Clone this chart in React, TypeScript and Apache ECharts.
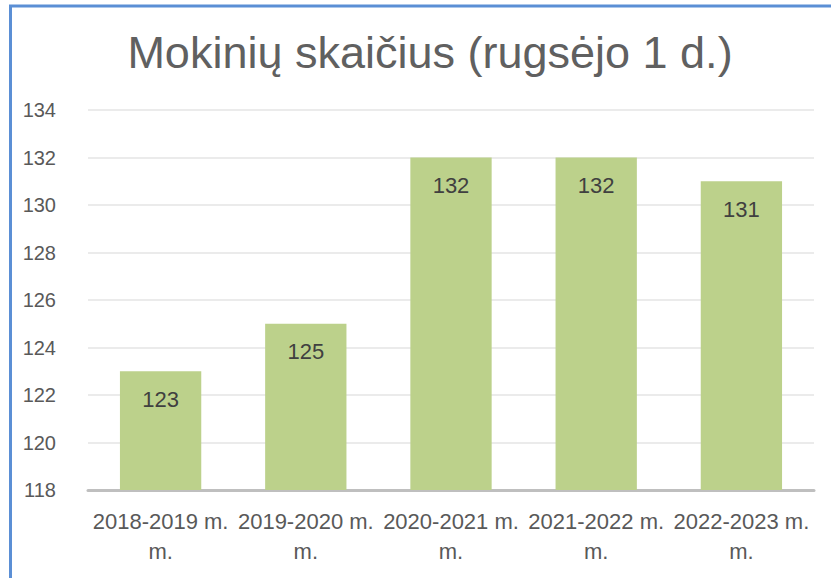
import React, { useEffect, useRef } from "react";
import * as echarts from "echarts";

const titleText = "Mokinių skaičius (rugsėjo 1 d.)";
const categories = [
  "2018-2019 m. m.",
  "2019-2020 m. m.",
  "2020-2021 m. m.",
  "2021-2022 m. m.",
  "2022-2023 m. m.",
];
const values = [123, 125, 132, 132, 131];
const yMin = 118;
const yMax = 134;
const yStep = 2;

const FONT = "'Liberation Sans', Arial, sans-serif";

export default function App() {
  const ref = useRef<HTMLDivElement>(null);
  useEffect(() => {
    if (!ref.current) return;
    const chart = echarts.init(ref.current, undefined, { renderer: "svg" });
    chart.setOption({
      animation: false,
      backgroundColor: "#ffffff",
      title: {
        text: titleText,
        left: 425,
        textAlign: "center",
        top: 25,
        textStyle: {
          fontFamily: FONT,
          fontSize: 45,
          fontWeight: "normal",
          color: "#606060",
        },
      },
      graphic: [
        {
          type: "line",
          shape: { x1: 10.5, y1: 5, x2: 10.5, y2: 578 },
          style: { stroke: "#5B8FD5", lineWidth: 3 },
        },
        {
          type: "line",
          shape: { x1: 9, y1: 6, x2: 831, y2: 6 },
          style: { stroke: "#5B8FD5", lineWidth: 3 },
        },
      ],
      grid: { left: 88, right: 17, top: 110, bottom: 88, containLabel: false },
      xAxis: {
        type: "category",
        data: categories,
        axisLine: { show: true, lineStyle: { color: "#BFBFBF", width: 3 } },
        axisTick: { show: false },
        axisLabel: {
          interval: 0,
          margin: 16,
          fontFamily: FONT,
          fontSize: 22,
          lineHeight: 30,
          color: "#595959",
          formatter: (v: string) => v.replace(/ (m\.)$/, "\n$1"),
        },
      },
      yAxis: {
        type: "value",
        min: yMin,
        max: yMax,
        interval: yStep,
        axisLine: { show: false },
        axisTick: { show: false },
        axisLabel: {
          margin: 32,
          fontFamily: FONT,
          fontSize: 20,
          color: "#595959",
        },
        splitLine: { lineStyle: { color: "#EBEBEB", width: 2 } },
      },
      series: [
        {
          type: "bar",
          data: values,
          barWidth: "56%",
          itemStyle: { color: "#BCD18B" },
          label: {
            show: true,
            position: "insideTop",
            distance: 17,
            fontFamily: FONT,
            fontSize: 22,
            color: "#404040",
          },
        },
      ],
    });
    return () => chart.dispose();
  }, []);
  return (
    <div
      ref={ref}
      style={{ position: "fixed", left: 0, top: 0, width: 831, height: 578 }}
    />
  );
}
